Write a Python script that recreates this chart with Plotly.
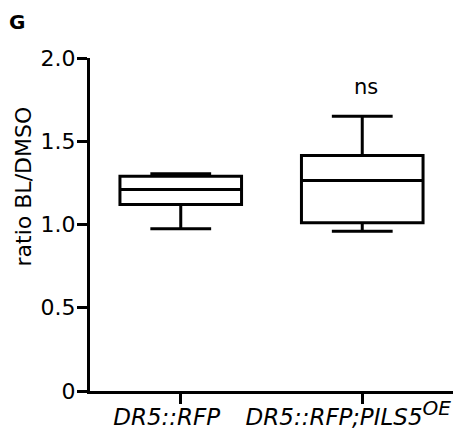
import plotly.graph_objects as go

categories = ["DR5::RFP", "DR5::RFP;PILS5<sup><span style='font-size:20px'>OE</span></sup>"]
q1 = [1.12, 1.01]
median = [1.21, 1.265]
q3 = [1.29, 1.415]
lowerfence = [0.975, 0.96]
upperfence = [1.305, 1.65]
yticks = [0, 0.5, 1.0, 1.5, 2.0]
yticklabels = ["0", "0.5", "1.0", "1.5", "2.0"]

FONT = "DejaVu Sans, Verdana, sans-serif"

fig = go.Figure()
fig.add_trace(go.Box(
    x=[0, 1], q1=q1, median=median, q3=q3,
    lowerfence=lowerfence, upperfence=upperfence,
    fillcolor="white", line=dict(color="black", width=3),
    whiskerwidth=0.5, width=0.67, boxpoints=False, hoverinfo="skip",
    showlegend=False,
))

fig.update_layout(
    width=473, height=432,
    margin=dict(l=90, r=20, t=58, b=41),
    paper_bgcolor="white", plot_bgcolor="white",
    font=dict(family=FONT, size=22, color="black"),
    xaxis=dict(
        range=[-0.5, 1.5], tickmode="array", tickvals=[0, 1],
        ticktext=["<i>" + c + "</i>" for c in categories],
        showline=True, linecolor="black", linewidth=3,
        ticks="outside", ticklen=10, tickwidth=3, tickcolor="black",
        showgrid=False, zeroline=False, tickfont=dict(size=23),
        ticklabelshift=-14, ticklabelstandoff=-7, automargin=False,
    ),
    yaxis=dict(
        range=[0, 2.0], tickmode="array", tickvals=yticks, ticktext=yticklabels,
        showline=True, linecolor="black", linewidth=3,
        ticks="outside", ticklen=10, tickwidth=3, tickcolor="black",
        showgrid=False, zeroline=False, tickfont=dict(size=22),
        ticklabelstandoff=-3, automargin=False,
    ),
    annotations=[
        dict(text="ratio BL/DMSO", textangle=-90, xref="paper", yref="paper",
             x=-0.183, y=0.613, xanchor="center", yanchor="middle",
             showarrow=False, font=dict(size=22)),
        dict(text="<b>G</b>", xref="paper", yref="paper",
             x=-0.201, y=1.108, xanchor="center", yanchor="middle",
             showarrow=False, font=dict(size=20)),
        dict(text="ns", xref="x", yref="paper",
             x=1.02, y=(391 - 87) / 333, xanchor="center", yanchor="middle",
             showarrow=False, font=dict(size=21)),
    ],
)

fig.write_html("out.html")
